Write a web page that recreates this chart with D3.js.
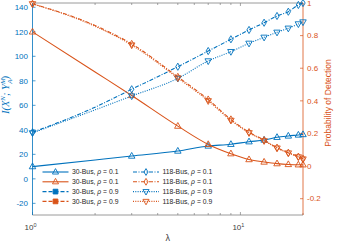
<!DOCTYPE html>
<html>
<head>
<meta charset="utf-8">
<script src="https://cdn.jsdelivr.net/npm/d3@7"></script>
<style>
  body { margin: 0; background: #fff; }
  svg { font-family: "Liberation Sans", Arial, sans-serif; display: block; }
</style>
</head>
<body>
<div id="chart"></div>
<script>
// values
const lambda = [1, 2, 3, 5, 7, 9, 11, 13, 15, 17, 19, 20];
const markerAt = [1, 3, 5, 7, 9, 11, 13, 15, 17, 19, 20];

// mutual information (left axis)
const mi30_01 = [10.0, 15.4, 18.6, 22.7, 26.8, 28.2, 30.3, 31.7, 33.9, 35.0, 35.8, 36.2];
const mi118_01 = [38.0, 58.5, 73.1, 91.5, 104.3, 113.9, 121.5, 127.4, 132.9, 136.4, 141.9, 143.5];
const mi118_09 = [37.5, 56.3, 67.6, 82.0, 96.2, 103.8, 110.6, 115.5, 119.6, 122.9, 126.4, 128.0];

// probability of detection (right axis)
const pd30_01 = [0.823, 0.577, 0.433, 0.245, 0.133, 0.076, 0.040, 0.025, 0.015, 0.010, 0.008, 0.008];
const pd118_01 = [0.995, 0.862, 0.749, 0.547, 0.408, 0.286, 0.208, 0.159, 0.113, 0.082, 0.058, 0.045];
const pd118_09 = [0.995, 0.857, 0.742, 0.540, 0.400, 0.280, 0.204, 0.155, 0.110, 0.080, 0.056, 0.043];

const leftTicks = [-20, 0, 20, 40, 60, 80, 100, 120, 140];
const rightTicks = [-0.2, 0, 0.2, 0.4, 0.6, 0.8, 1];
const xMajor = [1, 10];
const xMinor = [2, 3, 4, 5, 6, 7, 8, 9, 20];

const legendLeft = ["30-Bus", "30-Bus", "30-Bus", "30-Bus"];
const legendRight = ["118-Bus", "118-Bus", "118-Bus", "118-Bus"];
const legendRho = ["0.1", "0.1", "0.9", "0.9"];

const width = 337, height = 244,
    margin = ({ top: 3, right: 34, bottom: 29, left: 32.5 });

const blue = "#0072BD", orange = "#D95319";

const svg = d3.select("#chart")
    .append("svg")
    .attr("width", width)
    .attr("height", height)
    .attr("viewBox", [0, 0, width, height]);

let x = d3.scaleLog()
    .domain([1, 20])
    .range([margin.left, width - margin.right]);

let yL = d3.scaleLinear()
    .domain([-29.5, 143.5])
    .range([height - margin.bottom, margin.top]);

let yR = d3.scaleLinear()
    .domain([-0.3, 1.0])
    .range([height - margin.bottom, margin.top]);

const x0 = x.range()[0], x1 = x.range()[1];
const yb = yL.range()[0], yt = yL.range()[1];

// box (top and bottom gray)
svg.append("line").attr("x1", x0).attr("x2", x1).attr("y1", yt).attr("y2", yt)
    .attr("stroke", "#808080").attr("stroke-width", 0.8);
svg.append("line").attr("x1", x0).attr("x2", x1).attr("y1", yb).attr("y2", yb)
    .attr("stroke", "#808080").attr("stroke-width", 0.8);

// x ticks, inward on bottom and top
const allX = xMajor.concat(xMinor);
svg.append("g").selectAll("line").data(allX).join("line")
    .attr("x1", d => x(d)).attr("x2", d => x(d))
    .attr("y1", yb).attr("y2", d => yb - (xMajor.includes(d) ? 3 : 2))
    .attr("stroke", "#808080").attr("stroke-width", 0.7);
svg.append("g").selectAll("line").data(allX).join("line")
    .attr("x1", d => x(d)).attr("x2", d => x(d))
    .attr("y1", yt).attr("y2", d => yt + (xMajor.includes(d) ? 3 : 2))
    .attr("stroke", "#808080").attr("stroke-width", 0.7);

const xl = svg.append("g").selectAll("text").data(xMajor).join("text")
    .attr("x", d => x(d) - 2)
    .attr("y", 230)
    .attr("text-anchor", "middle")
    .attr("font-size", 8)
    .attr("fill", "#404040");
xl.append("tspan").text("10");
xl.append("tspan").attr("dy", -3.5).attr("font-size", 5.5).text(d => Math.round(Math.log10(d)));

svg.append("text")
    .attr("x", (x0 + x1) / 2)
    .attr("y", 241)
    .attr("text-anchor", "middle")
    .attr("font-size", 9)
    .attr("fill", "#404040")
    .text("λ");

// left axis (blue)
svg.append("line").attr("x1", x0).attr("x2", x0).attr("y1", yt).attr("y2", yb)
    .attr("stroke", blue).attr("stroke-width", 0.8);
svg.append("g").selectAll("line").data(leftTicks).join("line")
    .attr("x1", x0).attr("x2", x0 + 3)
    .attr("y1", d => yL(d)).attr("y2", d => yL(d))
    .attr("stroke", blue).attr("stroke-width", 0.7);
svg.append("g").selectAll("text").data(leftTicks).join("text")
    .attr("x", x0 - 4.5)
    .attr("y", d => yL(d))
    .attr("dy", "0.35em")
    .attr("text-anchor", "end")
    .attr("font-size", 8)
    .attr("fill", blue)
    .text(d => d);

// right axis (orange)
svg.append("line").attr("x1", x1).attr("x2", x1).attr("y1", yt).attr("y2", yb)
    .attr("stroke", orange).attr("stroke-width", 0.8);
svg.append("g").selectAll("line").data(rightTicks).join("line")
    .attr("x1", x1).attr("x2", x1 - 3)
    .attr("y1", d => yR(d)).attr("y2", d => yR(d))
    .attr("stroke", orange).attr("stroke-width", 0.7);
svg.append("g").selectAll("text").data(rightTicks).join("text")
    .attr("x", x1 + 4)
    .attr("y", d => yR(d))
    .attr("dy", "0.35em")
    .attr("font-size", 8)
    .attr("fill", orange)
    .text(d => d);

// axis titles
const yl = svg.append("text")
    .attr("transform", "translate(9,95) rotate(-90)")
    .attr("text-anchor", "middle")
    .attr("font-size", 10.5)
    .attr("font-family", "'Liberation Serif', 'Times New Roman', serif")
    .attr("font-style", "italic")
    .attr("fill", blue);
yl.append("tspan").text("I(X");
yl.append("tspan").attr("dy", -4).attr("font-size", 7).text("N");
yl.append("tspan").attr("dy", 4).text("; Y");
yl.append("tspan").attr("dy", -4).attr("font-size", 7).text("M");
yl.append("tspan").attr("dx", -5.5).attr("dy", 7).attr("font-size", 7).text("A");
yl.append("tspan").attr("dy", -3).text(")");

svg.append("text")
    .attr("transform", "translate(331,103) rotate(-90)")
    .attr("text-anchor", "middle")
    .attr("font-size", 8.5)
    .attr("fill", orange)
    .text("Probability of Detection");

// marker shapes
function markerPath(kind, s) {
    if (kind === "up") return `M0,${-s}L${s * 0.9},${s * 0.6}L${-s * 0.9},${s * 0.6}Z`;
    if (kind === "down") return `M0,${s}L${s * 0.9},${-s * 0.6}L${-s * 0.9},${-s * 0.6}Z`;
    if (kind === "diamond") return `M0,${-s}L${s * 0.6},0L0,${s}L${-s * 0.6},0Z`;
    if (kind === "square") return `M${-s * 0.7},${-s * 0.7}H${s * 0.7}V${s * 0.7}H${-s * 0.7}Z`;
    return "";
}

const dashes = { solid: null, dash: "4,2", dashdot: "4,1.5,1,1.5", dot: "1,1.3" };

const series = [
    { vals: mi30_01, y: yL, color: blue, dash: "solid", marker: "up" },
    { vals: pd30_01, y: yR, color: orange, dash: "solid", marker: "up" },
    { vals: mi118_01, y: yL, color: blue, dash: "dashdot", marker: "diamond" },
    { vals: pd118_01, y: yR, color: orange, dash: "dashdot", marker: "diamond" },
    { vals: mi118_09, y: yL, color: blue, dash: "dot", marker: "down" },
    { vals: pd118_09, y: yR, color: orange, dash: "dot", marker: "down" }
];

const plot = svg.append("g");

for (let s of series) {
    const pts = lambda.map((l, i) => ({ l: l, v: s.vals[i] }));
    const line = d3.line().curve(d3.curveMonotoneX).x(d => x(d.l)).y(d => s.y(d.v));
    plot.append("path")
        .datum(pts)
        .attr("d", line)
        .attr("fill", "none")
        .attr("stroke", s.color)
        .attr("stroke-width", 1.1)
        .attr("stroke-dasharray", dashes[s.dash]);
    plot.append("g").selectAll("path")
        .data(pts.filter(d => markerAt.includes(d.l)))
        .join("path")
        .attr("transform", d => `translate(${x(d.l)},${s.y(d.v)})`)
        .attr("d", markerPath(s.marker, 3.6))
        .attr("fill", "none")
        .attr("stroke", s.color)
        .attr("stroke-width", 0.9);
}

// legend
const legendRows = [
    { color: blue, dash: "solid", marker: "up" },
    { color: orange, dash: "solid", marker: "up" },
    { color: blue, dash: "dash", marker: "square" },
    { color: orange, dash: "dash", marker: "square" }
];
const legendRows2 = [
    { color: blue, dash: "dashdot", marker: "diamond" },
    { color: orange, dash: "dashdot", marker: "diamond" },
    { color: blue, dash: "dot", marker: "down" },
    { color: orange, dash: "dot", marker: "down" }
];

function legendColumn(rows, names, lx, tx) {
    rows.forEach((r, i) => {
        const ly = 172 + i * 9.8;
        svg.append("line")
            .attr("x1", lx).attr("x2", lx + 26)
            .attr("y1", ly).attr("y2", ly)
            .attr("stroke", r.color)
            .attr("stroke-width", 1.1)
            .attr("stroke-dasharray", dashes[r.dash]);
        svg.append("path")
            .attr("transform", `translate(${lx + 13},${ly})`)
            .attr("d", markerPath(r.marker, 3.4))
            .attr("fill", r.marker === "square" ? r.color : "none")
            .attr("stroke", r.color)
            .attr("stroke-width", 0.9);
        const t = svg.append("text")
            .attr("x", tx)
            .attr("y", ly)
            .attr("dy", "0.35em")
            .attr("font-size", 6.8)
            .attr("fill", "#262626");
        t.append("tspan").text(names[i] + ", ");
        t.append("tspan").attr("font-style", "italic").text("ρ");
        t.append("tspan").text(" = " + legendRho[i]);
    });
}

legendColumn(legendRows, legendLeft, 42.5, 72);
legendColumn(legendRows2, legendRight, 133, 162.5);
</script>
</body>
</html>
